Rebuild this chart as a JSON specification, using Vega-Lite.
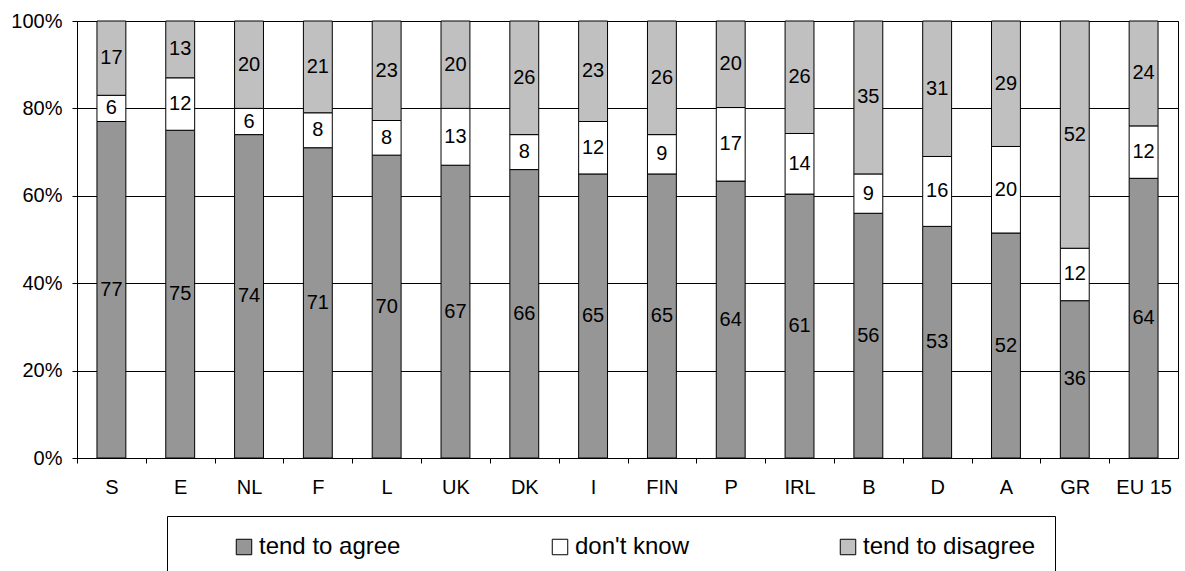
{
  "$schema": "https://vega.github.io/schema/vega-lite/v6.json",
  "width": 1101,
  "height": 437,
  "autosize": {"type": "none"},
  "padding": {"left": 77, "top": 21, "right": 7, "bottom": 113},
  "background": "white",
  "config": {
    "font": "Liberation Sans",
    "view": {"stroke": "black", "strokeWidth": 1}
  },
  "data": {
    "values": [
      {"country": "S", "answer": "tend to agree", "ord": 1, "pct": 77},
      {"country": "S", "answer": "don't know", "ord": 2, "pct": 6},
      {"country": "S", "answer": "tend to disagree", "ord": 3, "pct": 17},
      {"country": "E", "answer": "tend to agree", "ord": 1, "pct": 75},
      {"country": "E", "answer": "don't know", "ord": 2, "pct": 12},
      {"country": "E", "answer": "tend to disagree", "ord": 3, "pct": 13},
      {"country": "NL", "answer": "tend to agree", "ord": 1, "pct": 74},
      {"country": "NL", "answer": "don't know", "ord": 2, "pct": 6},
      {"country": "NL", "answer": "tend to disagree", "ord": 3, "pct": 20},
      {"country": "F", "answer": "tend to agree", "ord": 1, "pct": 71},
      {"country": "F", "answer": "don't know", "ord": 2, "pct": 8},
      {"country": "F", "answer": "tend to disagree", "ord": 3, "pct": 21},
      {"country": "L", "answer": "tend to agree", "ord": 1, "pct": 70},
      {"country": "L", "answer": "don't know", "ord": 2, "pct": 8},
      {"country": "L", "answer": "tend to disagree", "ord": 3, "pct": 23},
      {"country": "UK", "answer": "tend to agree", "ord": 1, "pct": 67},
      {"country": "UK", "answer": "don't know", "ord": 2, "pct": 13},
      {"country": "UK", "answer": "tend to disagree", "ord": 3, "pct": 20},
      {"country": "DK", "answer": "tend to agree", "ord": 1, "pct": 66},
      {"country": "DK", "answer": "don't know", "ord": 2, "pct": 8},
      {"country": "DK", "answer": "tend to disagree", "ord": 3, "pct": 26},
      {"country": "I", "answer": "tend to agree", "ord": 1, "pct": 65},
      {"country": "I", "answer": "don't know", "ord": 2, "pct": 12},
      {"country": "I", "answer": "tend to disagree", "ord": 3, "pct": 23},
      {"country": "FIN", "answer": "tend to agree", "ord": 1, "pct": 65},
      {"country": "FIN", "answer": "don't know", "ord": 2, "pct": 9},
      {"country": "FIN", "answer": "tend to disagree", "ord": 3, "pct": 26},
      {"country": "P", "answer": "tend to agree", "ord": 1, "pct": 64},
      {"country": "P", "answer": "don't know", "ord": 2, "pct": 17},
      {"country": "P", "answer": "tend to disagree", "ord": 3, "pct": 20},
      {"country": "IRL", "answer": "tend to agree", "ord": 1, "pct": 61},
      {"country": "IRL", "answer": "don't know", "ord": 2, "pct": 14},
      {"country": "IRL", "answer": "tend to disagree", "ord": 3, "pct": 26},
      {"country": "B", "answer": "tend to agree", "ord": 1, "pct": 56},
      {"country": "B", "answer": "don't know", "ord": 2, "pct": 9},
      {"country": "B", "answer": "tend to disagree", "ord": 3, "pct": 35},
      {"country": "D", "answer": "tend to agree", "ord": 1, "pct": 53},
      {"country": "D", "answer": "don't know", "ord": 2, "pct": 16},
      {"country": "D", "answer": "tend to disagree", "ord": 3, "pct": 31},
      {"country": "A", "answer": "tend to agree", "ord": 1, "pct": 52},
      {"country": "A", "answer": "don't know", "ord": 2, "pct": 20},
      {"country": "A", "answer": "tend to disagree", "ord": 3, "pct": 29},
      {"country": "GR", "answer": "tend to agree", "ord": 1, "pct": 36},
      {"country": "GR", "answer": "don't know", "ord": 2, "pct": 12},
      {"country": "GR", "answer": "tend to disagree", "ord": 3, "pct": 52},
      {"country": "EU 15", "answer": "tend to agree", "ord": 1, "pct": 64},
      {"country": "EU 15", "answer": "don't know", "ord": 2, "pct": 12},
      {"country": "EU 15", "answer": "tend to disagree", "ord": 3, "pct": 24}
    ]
  },
  "encoding": {
    "x": {
      "field": "country",
      "type": "nominal",
      "sort": null,
      "scale": {"paddingInner": 0.58, "paddingOuter": 0.29},
      "axis": {
        "title": null,
        "labelAngle": 0,
        "labelFontSize": 20,
        "labelColor": "black",
        "tickColor": "black",
        "tickSize": 5,
        "domainColor": "black",
        "tickOffset": -34.4,
        "labelOffset": 34.4,
        "labelPadding": 14,
        "grid": false
      }
    },
    "order": {"field": "ord", "type": "quantitative"}
  },
  "layer": [
    {
      "mark": {"type": "bar", "stroke": "black", "strokeWidth": 1},
      "encoding": {
        "y": {
          "field": "pct",
          "type": "quantitative",
          "stack": "normalize",
          "scale": {"domain": [0, 1], "nice": false},
          "axis": {
            "title": null,
            "grid": true,
            "values": [0, 0.2, 0.4, 0.6, 0.8, 1],
            "format": ".0%",
            "labelFontSize": 20,
            "labelColor": "black",
            "tickSize": 5,
            "tickColor": "black",
            "labelPadding": 10,
            "domainColor": "black",
            "gridColor": "black",
            "gridOpacity": 1
          }
        },
        "color": {
          "field": "answer",
          "type": "nominal",
          "scale": {
            "domain": ["tend to agree", "don't know", "tend to disagree"],
            "range": ["#969696", "#ffffff", "#c0c0c0"]
          },
          "legend": {
            "orient": "none",
            "legendX": 90,
            "legendY": 495,
            "direction": "horizontal",
            "title": "\u00a0",
            "titleOrient": "left",
            "titleFontSize": 10,
            "titlePadding": 46,
            "symbolType": "square",
            "symbolSize": 240,
            "symbolStrokeColor": "black",
            "symbolStrokeWidth": 1,
            "labelFontSize": 24,
            "labelColor": "black",
            "labelOffset": 3,
            "labelLimit": 400,
            "columnPadding": 147,
            "padding": 19,
            "strokeColor": "black",
            "fillColor": "white"
          }
        }
      }
    },
    {
      "mark": {"type": "text", "fontSize": 20, "color": "black", "baseline": "middle"},
      "encoding": {
        "y": {
          "field": "pct",
          "type": "quantitative",
          "stack": "normalize",
          "bandPosition": 0.5,
          "axis": {
            "title": null,
            "grid": true,
            "values": [0, 0.2, 0.4, 0.6, 0.8, 1],
            "format": ".0%",
            "labelFontSize": 20,
            "labelColor": "black",
            "tickSize": 5,
            "tickColor": "black",
            "labelPadding": 10,
            "domainColor": "black",
            "gridColor": "black",
            "gridOpacity": 1
          }
        },
        "text": {"field": "pct", "type": "quantitative"}
      }
    }
  ]
}
